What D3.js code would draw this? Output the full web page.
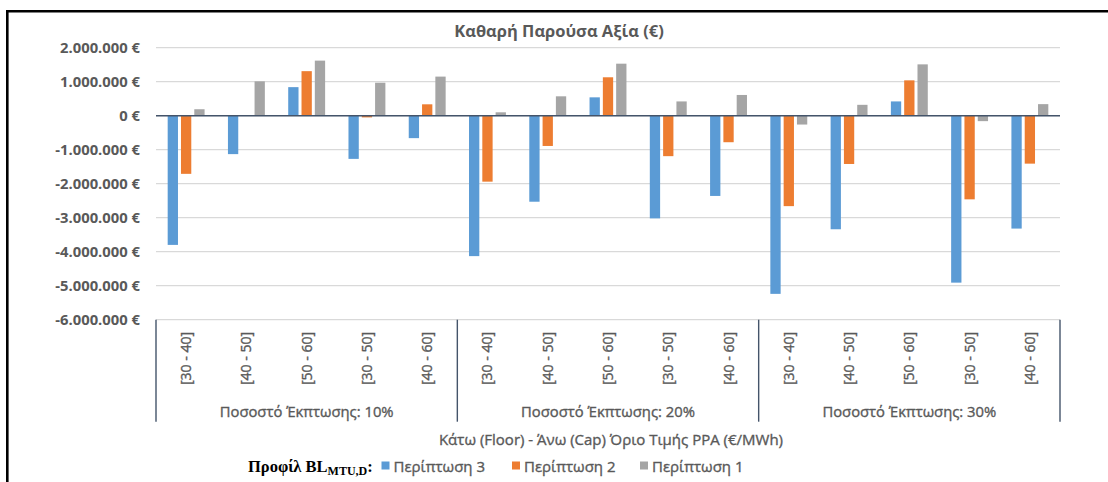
<!DOCTYPE html>
<html>
<head>
<meta charset="utf-8">
<script src="https://cdn.jsdelivr.net/npm/d3@7"></script>
<style>
  html, body { margin: 0; padding: 0; background: #fff; }
  svg { display: block; }
  text { font-family: "Open Sans", "Noto Sans", sans-serif; fill: #595959; }
  .medium { stroke: #595959; stroke-width: 0.35px; }
</style>
</head>
<body>
<svg id="chart" width="1108" height="482"></svg>
<script>
// Discount-rate groups and floor-cap price ranges on the category axis
const groups = ["Ποσοστό Έκπτωσης: 10%", "Ποσοστό Έκπτωσης: 20%", "Ποσοστό Έκπτωσης: 30%"];
const ranges = ["[30 - 40]", "[40 - 50]", "[50 - 60]", "[30 - 50]", "[40 - 60]"];

// Net present value (€) per case, one value per group × range, in order
const case3 = [-3800000, -1130000, 840000, -1270000, -660000,
               -4130000, -2530000, 540000, -3020000, -2360000,
               -5240000, -3340000, 420000, -4910000, -3320000];
const case2 = [-1710000, 20000, 1310000, -50000, 335000,
               -1940000, -890000, 1130000, -1190000, -780000,
               -2660000, -1420000, 1040000, -2460000, -1410000];
const case1 = [190000, 1010000, 1620000, 970000, 1150000,
               100000, 570000, 1530000, 420000, 610000,
               -260000, 320000, 1510000, -160000, 340000];

const seriesNames = ["Περίπτωση 3", "Περίπτωση 2", "Περίπτωση 1"];
const yTicks = [2000000, 1000000, 0, -1000000, -2000000, -3000000, -4000000, -5000000, -6000000];

const chartTitle = "Καθαρή Παρούσα Αξία (€)";
const axisTitle = "Κάτω (Floor) - Άνω (Cap) Όριο Τιμής PPA (€/MWh)";

const colors = ["#5B9BD5", "#ED7D31", "#A5A5A5"];
const seriesValues = [case3, case2, case1];

const svg = d3.select("#chart");

// Outer frame (left and top edges)
svg.append("path")
  .attr("d", "M7.3,490 L7.3,11.3 L1110,11.3")
  .attr("fill", "none")
  .attr("stroke", "#000")
  .attr("stroke-width", 2.6);

const plot = { left: 156, right: 1060, top: 47.7, bottom: 319.7 };

// Flattened category keys: group index + range index
const cats = [];
groups.forEach((g, gi) => ranges.forEach((r, ri) => cats.push({ key: gi + "-" + ri, g: gi, r: ri, label: r })));

const x = d3.scaleBand()
  .domain(cats.map(c => c.key))
  .range([plot.left, plot.right])
  .paddingInner(0).paddingOuter(0);

const xs = d3.scaleBand()
  .domain(d3.range(seriesNames.length))
  .range([0, x.bandwidth()])
  .paddingInner(0.226)
  .paddingOuter(0.878);

const y = d3.scaleLinear()
  .domain([-6000000, 2000000])
  .range([plot.bottom, plot.top]);

const loc = d3.formatLocale({ decimal: ",", thousands: ".", grouping: [3], currency: ["", " €"], minus: "-" });
const fmt = v => loc.format(",.0f")(v) + " €";

// Horizontal gridlines
svg.append("g")
  .selectAll("line")
  .data(yTicks)
  .join("line")
  .attr("x1", plot.left).attr("x2", plot.right)
  .attr("y1", d => y(d)).attr("y2", d => y(d))
  .attr("stroke", "#D9D9D9")
  .attr("stroke-width", 1.2);

// Y axis labels
const yAxis = d3.axisLeft(y).tickValues(yTicks).tickFormat(fmt).tickSize(0).tickPadding(0);
const yg = svg.append("g")
  .attr("transform", `translate(${plot.left - 16},0)`)
  .call(yAxis);
yg.select(".domain").remove();
yg.selectAll("text")
  .attr("fill", "#595959")
  .style("font-family", '"Open Sans", sans-serif')
  .style("font-size", "14.8px")
  .style("font-weight", "700");

// Bars
const barG = svg.append("g");
seriesValues.forEach((vals, si) => {
  barG.append("g")
    .selectAll("rect")
    .data(cats.map((c, i) => ({ c, v: vals[i] })))
    .join("rect")
    .attr("x", d => x(d.c.key) + xs(si))
    .attr("width", xs.bandwidth())
    .attr("y", d => y(Math.max(0, d.v)))
    .attr("height", d => Math.abs(y(d.v) - y(0)))
    .attr("fill", colors[si]);
});

// Zero line
svg.append("line")
  .attr("x1", plot.left).attr("x2", plot.right)
  .attr("y1", y(0)).attr("y2", y(0))
  .attr("stroke", "#44546A")
  .attr("stroke-width", 1.4);

// Group separators below the plot
const sepBottom = 421.7;
const sepX = [plot.left];
groups.forEach((g, gi) => sepX.push(x(gi + "-" + (ranges.length - 1)) + x.bandwidth()));
svg.append("g")
  .selectAll("line")
  .data(sepX)
  .join("line")
  .attr("x1", d => d).attr("x2", d => d)
  .attr("y1", plot.bottom).attr("y2", sepBottom)
  .attr("stroke", "#44546A")
  .attr("stroke-width", 1.4);

// Range labels, rotated
svg.append("g")
  .selectAll("text")
  .data(cats)
  .join("text")
  .attr("class", "medium")
  .attr("transform", d => `translate(${x(d.key) + x.bandwidth() / 2 + 5},332) rotate(-90)`)
  .attr("text-anchor", "end")
  .style("font-size", "14px")
  .text(d => d.label);

// Group labels
svg.append("g")
  .selectAll("text")
  .data(groups)
  .join("text")
  .attr("class", "medium")
  .attr("x", (d, gi) => (x(gi + "-0") + x(gi + "-" + (ranges.length - 1)) + x.bandwidth()) / 2)
  .attr("y", 417)
  .attr("text-anchor", "middle")
  .style("font-size", "14.8px")
  .text(d => d);

// Axis title
svg.append("text")
  .attr("class", "medium")
  .attr("x", (plot.left + plot.right) / 2 + 3)
  .attr("y", 445)
  .attr("text-anchor", "middle")
  .style("font-size", "15px")
  .text(axisTitle);

// Chart title
svg.append("text")
  .attr("x", 559)
  .attr("y", 36.5)
  .attr("text-anchor", "middle")
  .style("font-size", "16.5px")
  .style("font-weight", "700")
  .text(chartTitle);

// Legend
const lg = svg.append("g").attr("transform", "translate(0,472)");
const lt = lg.append("text")
  .attr("x", 248)
  .attr("y", 0)
  .style("font-family", '"Liberation Serif", "DejaVu Serif", serif')
  .style("font-weight", "700")
  .style("font-size", "16.5px")
  .style("fill", "#000");
lt.append("tspan").text("Προφίλ BL");
lt.append("tspan").attr("dy", 3).style("font-size", "12px").text("MTU,D");
lt.append("tspan").attr("dy", -3).text(":");

const legendX = [381.5, 512, 640];
seriesNames.forEach((name, i) => {
  lg.append("rect")
    .attr("x", legendX[i]).attr("y", -10.5)
    .attr("width", 8).attr("height", 8)
    .attr("fill", colors[i]);
  lg.append("text")
    .attr("class", "medium")
    .attr("x", legendX[i] + 12)
    .attr("y", 0)
    .style("font-size", "15px")
    .text(name);
});
</script>
</body>
</html>
